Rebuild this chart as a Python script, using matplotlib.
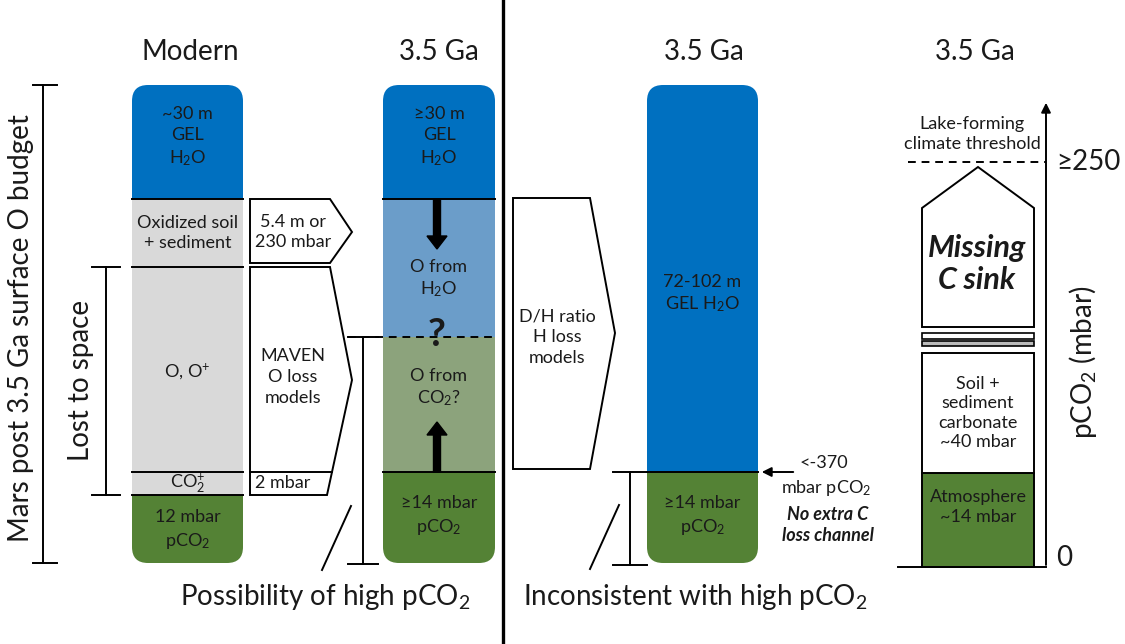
import matplotlib.pyplot as plt
from matplotlib.patches import FancyBboxPatch, Rectangle, Polygon

plt.rcParams['font.family'] = ['Lato', 'DejaVu Sans']
plt.rcParams['mathtext.fontset'] = 'custom'
plt.rcParams['mathtext.rm'] = 'Lato'
plt.rcParams['mathtext.it'] = 'Lato:italic'
plt.rcParams['mathtext.bf'] = 'Lato:bold'

BLUE = '#0070c0'
GREEN = '#548235'
GREY = '#d9d9d9'
LBLUE = '#6b9dc9'
OLIVE = '#8ca37c'
INK = '#1a1a1a'
FS = 13      # body text
FS_BIG = 20  # titles / captions
LS = 1.35    # line spacing of stacked labels

titles = ['Modern', '3.5 Ga', '3.5 Ga', '3.5 Ga']
title_x = [190, 439, 704, 975]

# stacked columns: layer edges top->bottom (diagram px), colours, labels, label y
modern_edges = [85, 199, 267, 472, 495, 563]
modern_colors = [BLUE, GREY, GREY, GREY, GREEN]
modern_labels = ['~30 m\nGEL\nH$_2$O', 'Oxidized soil\n+ sediment', 'O, O$^{+}$', 'CO$_2^{+}$', '12 mbar\npCO$_2$']
modern_label_y = [137, 233, 372, 483, 530]

early_edges = [85, 199, 337, 472, 563]
early_colors = [BLUE, LBLUE, OLIVE, GREEN]
early_labels = ['\u226530 m\nGEL\nH$_2$O', 'O from\nH$_2$O', 'O from\nCO$_2$?', '\u226514 mbar\npCO$_2$']
early_label_y = [137, 279, 388, 516]

dh_edges = [85, 472, 563]
dh_colors = [BLUE, GREEN]
dh_labels = ['72-102 m\nGEL H$_2$O', '\u226514 mbar\npCO$_2$']
dh_label_y = [294, 516]

# carbon budget column (pCO2 stack)
c_edges = [567, 473, 353]
c_colors = [GREEN, 'white']
c_labels = ['Atmosphere\n~14 mbar', 'Soil +\nsediment\ncarbonate\n~40 mbar']
c_label_y = [507, 413]

fig = plt.figure(figsize=(11.25, 6.44), dpi=100)
ax = fig.add_axes([0, 0, 1, 1])
ax.set_xlim(0, 1125)
ax.set_ylim(644, 0)
ax.axis('off')


def column(x0, x1, edges, colors, labels, label_y, lines=True):
    clip = FancyBboxPatch((x0, edges[0]), x1 - x0, edges[-1] - edges[0],
                          boxstyle='round,pad=0,rounding_size=16',
                          facecolor='none', edgecolor='none')
    ax.add_patch(clip)
    for top, bot, c in zip(edges[:-1], edges[1:], colors):
        r = Rectangle((x0, top), x1 - x0, bot - top, facecolor=c, edgecolor='none')
        ax.add_patch(r)
        r.set_clip_path(clip)
    if lines:
        for e in edges[1:-1]:
            ax.plot([x0, x1], [e, e], color='black', lw=1.4)
    xm = (x0 + x1) / 2
    for lab, y in zip(labels, label_y):
        ax.text(xm, y, lab, ha='center', va='center', fontsize=FS, color=INK,
                linespacing=LS)


for t, x in zip(titles, title_x):
    ax.text(x, 52, t, ha='center', va='center', fontsize=FS_BIG, color=INK)

# modern column
column(132, 243, modern_edges, modern_colors, modern_labels, modern_label_y)

# 3.5 Ga O budget column
column(383, 495, early_edges, early_colors, early_labels, early_label_y, lines=False)
ax.plot([383, 495], [199, 199], color='black', lw=1.4)
ax.plot([383, 495], [472, 472], color='black', lw=1.4)
ax.plot([348, 495], [337, 337], color='black', lw=1.4, ls=(0, (4, 3)))
ax.arrow(437, 200, 0, 49, width=7, head_width=20, head_length=13,
         length_includes_head=True, color='black')
ax.arrow(437, 472, 0, -50, width=7, head_width=20, head_length=13,
         length_includes_head=True, color='black')
ax.text(437, 334, '?', ha='center', va='center', fontsize=28, fontweight='bold', color=INK)

# 3.5 Ga H loss column
column(647, 758, dh_edges, dh_colors, dh_labels, dh_label_y)

# arrow-shaped boxes
box_kw = dict(facecolor='white', edgecolor='black', lw=1.4, joinstyle='miter')
ax.add_patch(Polygon([(250, 199), (330, 199), (352, 232), (330, 263), (250, 263)], **box_kw))
ax.text(293, 232, '5.4 m or\n230 mbar', ha='center', va='center', fontsize=FS, color=INK, linespacing=LS)
ax.add_patch(Polygon([(250, 267), (330, 267), (352, 380), (327, 495), (250, 495)], **box_kw))
ax.plot([250, 332], [472, 472], color='black', lw=1.4)
ax.text(293, 377, 'MAVEN\nO loss\nmodels', ha='center', va='center', fontsize=FS, color=INK, linespacing=LS)
ax.text(255, 483, '2 mbar', ha='left', va='center', fontsize=FS, color=INK)
ax.add_patch(Polygon([(513, 198), (590, 198), (615, 333), (590, 469), (513, 469)], **box_kw))
ax.text(557, 337, 'D/H ratio\nH loss\nmodels', ha='center', va='center', fontsize=FS, color=INK, linespacing=LS)


def bracket(x, y0, y1, w0, w1, lw=1.4):
    ax.plot([x, x], [y0, y1], color='black', lw=lw)
    ax.plot([x - w0, x + w1], [y0, y0], color='black', lw=lw)
    ax.plot([x - w0, x + w1], [y1, y1], color='black', lw=lw)


bracket(43, 85, 563, 10, 14)
ax.text(21, 328, 'Mars post 3.5 Ga surface O budget', rotation=90, ha='center', va='center',
        fontsize=FS_BIG, color=INK)
bracket(106, 267, 495, 14, 14)
ax.text(81, 380, 'Lost to space', rotation=90, ha='center', va='center', fontsize=FS_BIG, color=INK)
ax.plot([363, 363], [337, 564], color='black', lw=1.4)
ax.plot([348, 378], [564, 564], color='black', lw=1.4)
ax.plot([348, 378], [337, 337], color='black', lw=1.4)
ax.plot([322, 351], [570, 506], color='black', lw=1.4)
bracket(630, 472, 565, 17, 17)
ax.plot([590, 619], [569, 505], color='black', lw=1.4)

# annotation right of H loss column
ax.annotate('', xy=(759, 472), xytext=(796, 472),
            arrowprops=dict(arrowstyle='-|>', color='black', lw=1.4, mutation_scale=14))
ax.text(824, 463, '<-370', ha='center', va='center', fontsize=FS, color=INK)
ax.text(826, 488, 'mbar pCO$_2$', ha='center', va='center', fontsize=FS, color=INK)
ax.text(828, 525, 'No extra C\nloss channel', ha='center', va='center', fontsize=FS,
        fontweight='bold', fontstyle='italic', color=INK, linespacing=LS)

# divider
ax.plot([503, 503], [0, 644], color='black', lw=2.4)

# bottom captions
ax.text(325, 597, 'Possibility of high pCO$_2$', ha='center', va='center', fontsize=FS_BIG, color=INK)
ax.text(695, 597, 'Inconsistent with high pCO$_2$', ha='center', va='center', fontsize=FS_BIG, color=INK)

# carbon budget column
for top, bot, c in zip(c_edges[1:], c_edges[:-1], c_colors):
    ax.add_patch(Rectangle((922, top), 112, bot - top, facecolor=c, edgecolor='black', lw=1.4))
for lab, y in zip(c_labels, c_label_y):
    ax.text(978, y, lab, ha='center', va='center', fontsize=FS, color=INK, linespacing=1.25)
ax.add_patch(Rectangle((922, 333), 112, 6, facecolor='white', edgecolor='black', lw=1.2))
ax.add_patch(Rectangle((922, 341), 112, 5, facecolor='#bbbbbb', edgecolor='black', lw=1.2))
ax.add_patch(Polygon([(922, 327), (922, 208), (978, 167), (1034, 208), (1034, 327)], **box_kw))
ax.text(977, 264, 'Missing\nC sink', ha='center', va='center', fontsize=22,
        fontweight='bold', fontstyle='italic', color=INK, linespacing=1.15)

ax.plot([898, 1046], [567, 567], color='black', lw=1.4)
ax.annotate('', xy=(1046, 100), xytext=(1046, 567.7),
            arrowprops=dict(arrowstyle='-|>', color='black', lw=1.4, mutation_scale=14))
ax.plot([908, 1046], [162, 162], color='black', lw=1.4, ls=(0, (4, 3)))
ax.text(972, 134, 'Lake-forming\nclimate threshold', ha='center', va='center', fontsize=FS,
        color=INK, linespacing=1.25)
ax.text(1056, 162, '\u2265250', ha='left', va='center', fontsize=FS_BIG, color=INK)
ax.text(1056, 558, '0', ha='left', va='center', fontsize=FS_BIG, color=INK)
ax.text(1083, 362, 'pCO$_2$ (mbar)', rotation=90, ha='center', va='center', fontsize=FS_BIG, color=INK)

fig.savefig('out.png', dpi=100)
